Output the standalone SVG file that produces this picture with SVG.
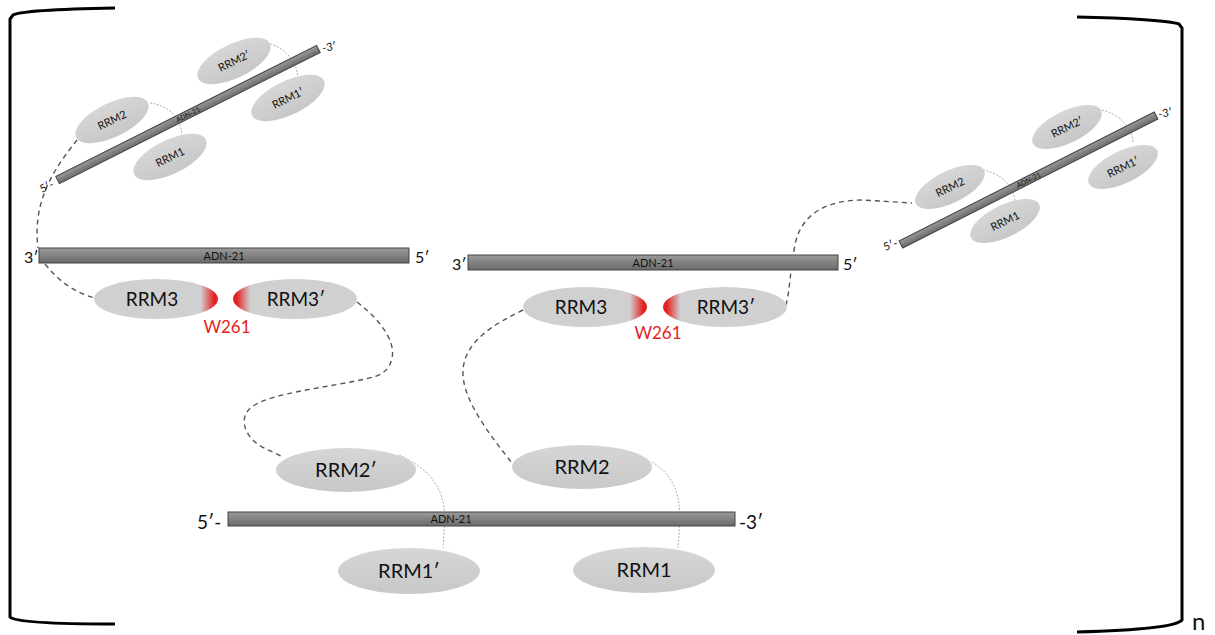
<svg xmlns="http://www.w3.org/2000/svg" width="1215" height="635" viewBox="0 0 1215 635">
<defs>
<linearGradient id="bar" x1="0" y1="0" x2="0" y2="1">
<stop offset="0" stop-color="#9a9a9a"/><stop offset="1" stop-color="#6a6a6a"/>
</linearGradient>
<linearGradient id="ell" x1="0" y1="0" x2="0" y2="1">
<stop offset="0" stop-color="#d6d6d6"/><stop offset="1" stop-color="#c8c8c8"/>
</linearGradient>
<linearGradient id="redR" x1="0" y1="0" x2="1" y2="0">
<stop offset="0" stop-color="#d0d0d0"/><stop offset="0.86" stop-color="#d0d0d0"/><stop offset="0.97" stop-color="#e52222"/><stop offset="1" stop-color="#e52222"/>
</linearGradient>
<linearGradient id="redL" x1="0" y1="0" x2="1" y2="0">
<stop offset="0" stop-color="#e52222"/><stop offset="0.03" stop-color="#e52222"/><stop offset="0.14" stop-color="#d0d0d0"/><stop offset="1" stop-color="#d0d0d0"/>
</linearGradient>
</defs>
<style>
.bar{fill:url(#bar);stroke:#444;stroke-width:1}
.ell{fill:url(#ell);stroke:none}
.t{font-family:Lato,"Liberation Sans",sans-serif;fill:#111;text-anchor:middle}
.lbl{font-family:Lato,"Liberation Sans",sans-serif;fill:#111}
.w{font-family:Lato,"Liberation Sans",sans-serif;fill:#e52222;font-size:17px;text-anchor:middle}
.dash{fill:none;stroke:#555;stroke-width:1.4;stroke-dasharray:5 4}
.dot{fill:none;stroke:#999;stroke-width:0.8;stroke-dasharray:2 1.5}
.brk{fill:none;stroke:#000;stroke-width:3}
</style>

<g id="brackets">
<path class="brk" d="M115 8 C60 9 20 11 13 15 L10 19 L10 617 C14 621 40 624 115 624"/>
<path class="brk" d="M1077 17 C1130 18 1170 21 1179 24 L1182 28 L1182 620 C1178 625 1150 630 1077 632"/>
<text class="lbl" x="1192" y="630" font-size="24">n</text>
</g>

<g id="connectors">
<path class="dash" d="M77 140 C55 168 32 200 38 248"/>
<path class="dash" d="M45 264 C60 283 78 294 95 298"/>
<path class="dash" d="M357 302 C378 318 396 340 392 358 C389 372 380 376 365 379 C330 387 272 393 253 406 C238 416 243 436 262 447 L283 457"/>
<path class="dash" d="M523 310 C492 325 465 342 463 370 C461 400 494 440 512 463"/>
<path class="dash" d="M786 305 C790 290 790 270 795 245 C801 212 830 200 862 200 L912 203"/>
<path class="dot" d="M399 455 C433 470 445 492 445 520 L443 548"/>
<path class="dot" d="M652 462 C674 475 680 495 680 520 L678 548"/>
</g>

<g id="dna-tilted-left">
<path class="dot" d="M150 103 C168 105 182 118 182 137"/>
<path class="dot" d="M267 43 C285 47 298 62 298 80"/>
<g transform="translate(188 114.5) rotate(-26.7)">
<rect class="bar" x="-146" y="-4" width="292" height="8"/>
<text class="t" x="0" y="2.5" font-size="7">ADN-21</text>
</g>
<g transform="translate(112 120) rotate(-26)"><ellipse class="ell" rx="40" ry="17"/><text class="t" y="4" font-size="11">RRM2</text></g>
<g transform="translate(170 157) rotate(-26)"><ellipse class="ell" rx="40" ry="17"/><text class="t" y="4" font-size="11">RRM1</text></g>
<g transform="translate(234 61) rotate(-26)"><ellipse class="ell" rx="40" ry="17"/><text class="t" y="4" font-size="11">RRM2′</text></g>
<g transform="translate(288 98) rotate(-26)"><ellipse class="ell" rx="40" ry="17"/><text class="t" y="4" font-size="11">RRM1′</text></g>
<text class="lbl" font-size="11" transform="translate(42 193) rotate(-26)">5′-</text>
<text class="lbl" font-size="11" transform="translate(323 52) rotate(-10)">-3′</text>
</g>

<g id="dna-tilted-right">
<path class="dot" d="M983 170 C1000 173 1015 186 1015 203"/>
<path class="dot" d="M1102 110 C1118 114 1133 127 1133 143"/>
<g transform="translate(1028.5 180) rotate(-26.8)">
<rect class="bar" x="-143" y="-4" width="286" height="8"/>
<text class="t" x="0" y="2.5" font-size="7">ADN-21</text>
</g>
<g transform="translate(950 187) rotate(-26)"><ellipse class="ell" rx="38" ry="16"/><text class="t" y="4" font-size="11">RRM2</text></g>
<g transform="translate(1005 221) rotate(-26)"><ellipse class="ell" rx="38" ry="16"/><text class="t" y="4" font-size="11">RRM1</text></g>
<g transform="translate(1067 127) rotate(-26)"><ellipse class="ell" rx="38" ry="16"/><text class="t" y="4" font-size="11">RRM2′</text></g>
<g transform="translate(1123 167) rotate(-26)"><ellipse class="ell" rx="38" ry="16"/><text class="t" y="4" font-size="11">RRM1′</text></g>
<text class="lbl" font-size="11" transform="translate(885 251) rotate(-20)">5′-</text>
<text class="lbl" font-size="11" transform="translate(1159 118) rotate(-10)">-3′</text>
</g>

<g id="dna-mid-left">
<rect class="bar" x="39" y="248" width="370" height="15"/>
<text class="t" x="224" y="259.5" font-size="11">ADN-21</text>
<text class="lbl" x="24" y="263" font-size="16">3′</text>
<text class="lbl" x="415" y="263" font-size="16">5′</text>
</g>
<g id="rrm3-left"><ellipse cx="156" cy="299" rx="62" ry="20" fill="url(#redR)"/><text class="t" x="152" y="306" font-size="19">RRM3</text></g>
<g id="rrm3p-left"><ellipse cx="295" cy="299" rx="62" ry="20" fill="url(#redL)"/><text class="t" x="296" y="306" font-size="19">RRM3′</text></g>
<text id="w261-left" class="w" x="227" y="333">W261</text>

<g id="dna-mid-right">
<rect class="bar" x="468" y="255" width="370" height="15"/>
<text class="t" x="653" y="266.5" font-size="11">ADN-21</text>
<text class="lbl" x="452" y="270" font-size="16">3′</text>
<text class="lbl" x="843" y="270" font-size="16">5′</text>
</g>
<g id="rrm3-right"><ellipse cx="585" cy="307" rx="62" ry="20" fill="url(#redR)"/><text class="t" x="581" y="314" font-size="19">RRM3</text></g>
<g id="rrm3p-right"><ellipse cx="725" cy="307" rx="62" ry="20" fill="url(#redL)"/><text class="t" x="726" y="314" font-size="19">RRM3′</text></g>
<text id="w261-right" class="w" x="658" y="339">W261</text>

<g id="dna-bottom">
<rect class="bar" x="228" y="512" width="507" height="14"/>
<text class="t" x="451" y="523" font-size="11">ADN-21</text>
<text class="lbl" x="197" y="529" font-size="19">5′-</text>
<text class="lbl" x="739" y="529" font-size="19">-3′</text>
</g>
<g id="rrm2p-bottom"><ellipse class="ell" cx="346" cy="470" rx="70" ry="22"/><text class="t" x="346" y="477" font-size="20">RRM2′</text></g>
<g id="rrm2-bottom"><ellipse class="ell" cx="582" cy="467" rx="70" ry="22"/><text class="t" x="582" y="474" font-size="20">RRM2</text></g>
<g id="rrm1p-bottom"><ellipse class="ell" cx="409" cy="571" rx="71" ry="23"/><text class="t" x="409" y="578" font-size="20">RRM1′</text></g>
<g id="rrm1-bottom"><ellipse class="ell" cx="644" cy="570" rx="71" ry="23"/><text class="t" x="644" y="577" font-size="20">RRM1</text></g>
</svg>
